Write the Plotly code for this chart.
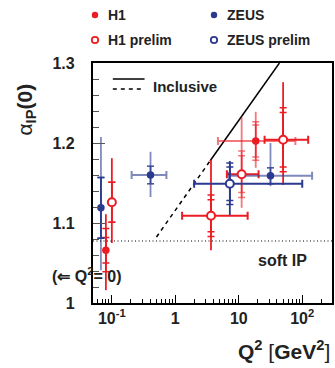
import plotly.graph_objects as go

# ---------------- data ----------------
# H1 (published, filled)
h1_q2 = [0.0805, 18.5]
h1_alpha = [1.066, 1.2025]
h1_q2_lo = [None, 4.7]
h1_q2_hi = [None, 78.0]
h1_err_up = [0.045, 0.0365]
h1_err_dn = [0.050, 0.0335]
h1_tick_a = [0.016, 0.020]
h1_tick_b = [0.027, 0.024]

# H1 prelim (open)
h1p_q2 = [0.100, 3.65, 11.1, 50.0]
h1p_alpha = [1.126, 1.109, 1.161, 1.204]
h1p_q2_lo = [None, 1.28, 6.5, 25.5]
h1p_q2_hi = [None, 13.8, 20.5, 124.0]
h1p_err_up = [0.055, 0.070, 0.071, 0.072]
h1p_err_dn = [0.051, 0.043, 0.042, 0.0565]
h1p_tick_a = [0.025, 0.020, 0.023, 0.034]
h1p_tick_b = [0.025, 0.026, 0.029, 0.040]

# ZEUS (published, filled)
zeus_q2 = [0.0673, 0.407, 31.6]
zeus_alpha = [1.119, 1.160, 1.159]
zeus_q2_lo = [None, 0.205, 7.0]
zeus_q2_hi = [None, 0.724, 143.0]
zeus_err_up = [0.0885, 0.029, 0.041]
zeus_err_dn = [0.078, 0.0275, 0.013]
zeus_tick_a = [0.038, 0.011, 0.010]
zeus_tick_b = [0.038, 0.011, 0.010]

# ZEUS prelim (open)
zeusp_q2 = [7.23]
zeusp_alpha = [1.149]
zeusp_q2_lo = [1.98]
zeusp_q2_hi = [100.0]
zeusp_err_up = [0.0285]
zeusp_err_dn = [0.039]
zeusp_tick_a = [0.021]
zeusp_tick_b = [0.026]

# Inclusive trajectory (dashed extrapolation, solid measured)
incl_dash_q2 = [0.505, 3.52]
incl_dash_alpha = [1.0825, 1.1775]
incl_solid_q2 = [3.52, 43.7]
incl_solid_alpha = [1.1775, 1.300]

soft_ip_alpha = 1.0775

x_tick_vals = [0.1, 1, 10, 100]
x_tick_text = ["10<sup>-1</sup>", "1", "10", "10<sup>2</sup>"]

# ---------------- styling ----------------
RED = "#ec1c24"
RED_F = "rgba(236,28,36,0.6)"
BLUE = "#2b3a8f"
BLUE_F = "rgba(43,58,143,0.6)"
FONT = "Liberation Sans, Arial, Helvetica, sans-serif"

series = [
    ("H1", h1_q2, h1_alpha, h1_q2_lo, h1_q2_hi, h1_err_up, h1_err_dn, h1_tick_a, h1_tick_b,
     RED, RED_F, [False, True], [False, True], [False, True], False),
    ("H1 prelim", h1p_q2, h1p_alpha, h1p_q2_lo, h1p_q2_hi, h1p_err_up, h1p_err_dn, h1p_tick_a, h1p_tick_b,
     RED, RED_F, [False, False, True, False], [False, False, False, False], [False, False, True, False], True),
    ("ZEUS", zeus_q2, zeus_alpha, zeus_q2_lo, zeus_q2_hi, zeus_err_up, zeus_err_dn, zeus_tick_a, zeus_tick_b,
     BLUE, BLUE_F, [True, True, True], [True, True, True], [False, True, True], False),
    ("ZEUS prelim", zeusp_q2, zeusp_alpha, zeusp_q2_lo, zeusp_q2_hi, zeusp_err_up, zeusp_err_dn, zeusp_tick_a, zeusp_tick_b,
     BLUE, BLUE_F, [False], [False], [False], True),
]

fig = go.Figure()

fig.add_trace(go.Scatter(x=incl_dash_q2, y=incl_dash_alpha, mode="lines",
                         line=dict(color="black", width=1.5, dash="4px,4px"),
                         showlegend=False, hoverinfo="skip"))
fig.add_trace(go.Scatter(x=incl_solid_q2, y=incl_solid_alpha, mode="lines",
                         line=dict(color="black", width=1.5),
                         showlegend=False, hoverinfo="skip"))

for (name, q2, al, lo, hi, up, dn, ta, tb, col, colf, vf, hf, tf, is_open) in series:
    for i in range(len(q2)):
        vcol = colf if vf[i] else col
        hcol = colf if hf[i] else col
        tcol = colf if tf[i] else col
        ex = dict(visible=False)
        if lo[i] is not None:
            ex = dict(type="data", symmetric=False, array=[hi[i] - q2[i]],
                      arrayminus=[q2[i] - lo[i]], width=4, thickness=2, color=hcol)
        fig.add_trace(go.Scatter(
            x=[q2[i]], y=[al[i]], mode="markers", marker=dict(size=1, opacity=0),
            error_y=dict(type="data", symmetric=False, array=[up[i]], arrayminus=[dn[i]],
                         width=0, thickness=1.8, color=vcol),
            error_x=ex, showlegend=False, hoverinfo="skip"))
        for t in (ta[i], tb[i]):
            fig.add_trace(go.Scatter(
                x=[q2[i]], y=[al[i]], mode="markers", marker=dict(size=1, opacity=0),
                error_y=dict(type="data", symmetric=True, array=[t],
                             width=3.5, thickness=1.5, color=tcol),
                showlegend=False, hoverinfo="skip"))

for (name, q2, al, lo, hi, up, dn, ta, tb, col, colf, vf, hf, tf, is_open) in series:
    if is_open:
        mk = dict(symbol="circle", size=8, color="white", line=dict(color=col, width=2))
    else:
        mk = dict(symbol="circle", size=7.5, color=col, line=dict(color=col, width=0))
    fig.add_trace(go.Scatter(x=q2, y=al, mode="markers", marker=mk, name=name,
                             showlegend=False))

# ---------------- layout ----------------
L, R, T, B = 93, 1, 63, 65
W, H = 335, 368
pw, ph = W - L - R, H - T - B


def px(xp):
    return (xp - L) / pw


def py(yp):
    return (H - B - yp) / ph


minor_x = [d * 10 ** k for k in (-2, -1, 0, 1, 2) for d in range(2, 10)]

fig.update_xaxes(type="log", range=[-1.297, 2.469], showgrid=False, zeroline=False,
                 showline=True, linecolor="black", linewidth=1.5, mirror=True,
                 ticks="inside", ticklen=8, tickwidth=1, tickcolor="black",
                 tickvals=x_tick_vals, ticktext=x_tick_text,
                 tickfont=dict(family=FONT, size=16, color="#222", weight="bold"),
                 minor=dict(tickvals=minor_x, ticks="inside", ticklen=4, tickcolor="black", tickwidth=1))
fig.update_yaxes(range=[1.0, 1.3], showgrid=False, zeroline=False,
                 showline=True, linecolor="black", linewidth=1.5, mirror=True,
                 ticks="inside", ticklen=12, tickwidth=1, tickcolor="#555",
                 tick0=1.0, dtick=0.1, ticksuffix="\u00a0\u00a0\u00a0",
                 tickfont=dict(family=FONT, size=16, color="#222", weight="bold"),
                 minor=dict(dtick=0.02, ticks="inside", ticklen=6, tickcolor="#555", tickwidth=1))

shapes = []
annotations = []

shapes.append(dict(type="line", xref="paper", yref="y", x0=0, x1=1, y0=soft_ip_alpha, y1=soft_ip_alpha,
                   line=dict(color="black", width=1.1, dash="1px,2.5px")))
shapes.append(dict(type="line", xref="paper", yref="paper", x0=px(113), x1=px(145), y0=py(79), y1=py(79),
                   line=dict(color="black", width=1.5)))
shapes.append(dict(type="line", xref="paper", yref="paper", x0=px(113), x1=px(145), y0=py(89), y1=py(89),
                   line=dict(color="black", width=1.5, dash="4px,4px")))
annotations.append(dict(text="<b>Inclusive</b>", xref="paper", yref="paper", x=px(151), y=py(86),
                        xanchor="left", yanchor="middle", showarrow=False,
                        font=dict(family=FONT, size=15, color="#222")))

legend_items = [("H1", 95, 15, RED, False), ("ZEUS", 215, 15, BLUE, False),
                ("H1 prelim", 95, 40, RED, True), ("ZEUS prelim", 215, 40, BLUE, True)]
for (lab, xm, ym, col, is_open) in legend_items:
    r = 3.2
    shapes.append(dict(type="circle", xref="paper", yref="paper", xsizemode="pixel", ysizemode="pixel",
                       xanchor=px(xm), yanchor=py(ym), x0=-r, x1=r, y0=-r, y1=r,
                       fillcolor="white" if is_open else col,
                       line=dict(color=col, width=1.8 if is_open else 0)))
    annotations.append(dict(text="<b>%s</b>" % lab, xref="paper", yref="paper", x=px(xm + 11), y=py(ym),
                            xanchor="left", yanchor="middle", showarrow=False,
                            font=dict(family=FONT, size=14, color="#222")))

annotations.append(dict(text="<b>soft IP</b>", xref="paper", yref="paper", x=px(284), y=py(260),
                        xanchor="center", yanchor="middle", showarrow=False,
                        font=dict(family=FONT, size=16, color="#222")))
annotations.append(dict(text="<b>(⇐ Q<sup>2</sup>= 0)</b>", xref="paper", yref="paper", x=px(86), y=py(275),
                        xanchor="center", yanchor="middle", showarrow=False,
                        font=dict(family=FONT, size=16, color="#222")))
annotations.append(dict(text="α<sub><b>IP</b></sub><b>(0)</b>", xref="paper", yref="paper",
                        x=px(25), y=py(110), textangle=-90,
                        xanchor="center", yanchor="middle", showarrow=False,
                        font=dict(family=FONT, size=21, color="#222")))
annotations.append(dict(text="<b>Q</b><sup><b>2</b></sup> [<b>GeV</b><sup><b>2</b></sup>]", xref="paper", yref="paper",
                        x=px(334), y=py(350), xanchor="right", yanchor="middle", showarrow=False,
                        font=dict(family=FONT, size=21, color="#222")))

fig.update_layout(width=W, height=H, margin=dict(l=L, r=R, t=T, b=B, pad=0),
                  paper_bgcolor="white", plot_bgcolor="white",
                  shapes=shapes, annotations=annotations, showlegend=False)

fig.write_html("out.html", config={"displayModeBar": False})
